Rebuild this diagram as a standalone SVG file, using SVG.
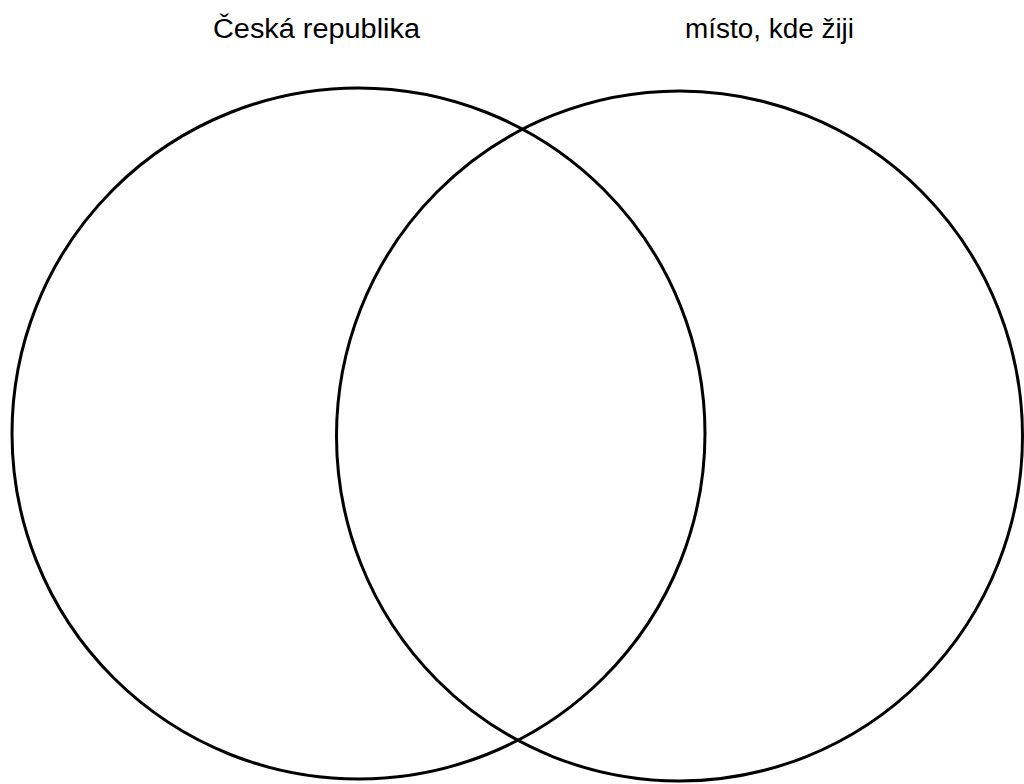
<svg xmlns="http://www.w3.org/2000/svg" width="1024" height="784" viewBox="0 0 1024 784">
<style>
.c{fill:none;stroke:#000;stroke-width:3}
.t{font-family:"Liberation Sans",Arial,sans-serif;font-size:27px;fill:#000;text-anchor:middle}
</style>
<rect width="1024" height="784" fill="#fff"/>
<g id="set-cr">
<ellipse class="c" cx="358.5" cy="433.5" rx="346.5" ry="345.5"/>
<text class="t" x="316.5" y="37.5" textLength="207" lengthAdjust="spacingAndGlyphs">Česká republika</text>
</g>
<g id="set-misto">
<ellipse class="c" cx="679.5" cy="436" rx="343" ry="345"/>
<text class="t" x="769.5" y="37.5" textLength="169" lengthAdjust="spacingAndGlyphs">místo, kde žiji</text>
</g>
<g id="connectors"/>
</svg>
